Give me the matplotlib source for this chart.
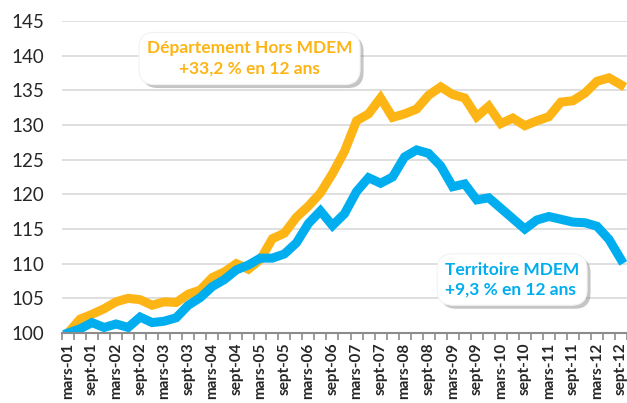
import matplotlib
matplotlib.use("Agg")
import matplotlib.pyplot as plt
import matplotlib.patheffects as pe

plt.rcParams['font.family'] = ['Lato', 'DejaVu Sans']

years = ['01', '02', '03', '04', '05', '06', '07', '08', '09', '10', '11', '12']
months = ['mars', 'juin', 'sept', 'déc']
categories = [f"{m}-{y}" for y in years for m in months][:47]  # mars-01 .. sept-12

dept_hors_mdem = [100, 102.0, 102.7, 103.5, 104.5, 105.0, 104.8, 104.0, 104.5, 104.4,
                  105.6, 106.2, 108.0, 108.8, 110.0, 109.2, 110.6, 113.6, 114.4, 116.7,
                  118.3, 120.2, 123.0, 126.2, 130.6, 131.6, 133.9, 131.1, 131.6, 132.3,
                  134.3, 135.5, 134.4, 133.9, 131.2, 132.7, 130.2, 131.0, 129.9, 130.6,
                  131.2, 133.3, 133.5, 134.6, 136.3, 136.8, 135.8]
territoire_mdem = [100, 100.6, 101.5, 100.8, 101.3, 100.8, 102.3, 101.5, 101.7, 102.2,
                   104.0, 105.1, 106.7, 107.7, 109.1, 109.8, 110.8, 110.8, 111.4, 113.0,
                   115.8, 117.6, 115.5, 117.2, 120.4, 122.4, 121.6, 122.5, 125.4, 126.4,
                   125.9, 124.1, 121.1, 121.5, 119.2, 119.5, 118.0, 116.5, 115.0, 116.3,
                   116.8, 116.4, 116.0, 115.9, 115.4, 113.5, 110.6]
y_ticks = [100, 105, 110, 115, 120, 125, 130, 135, 140, 145]

ORANGE = '#FDB515'
BLUE = '#00AEEF'

fig = plt.figure(figsize=(6.27, 4.03), dpi=100)
ax = fig.add_axes([62/627, 1-333/403, 1-62/627, (333-21)/403])

x = list(range(len(categories)))
ax.plot(x, dept_hors_mdem, color=ORANGE, lw=6.5, solid_joinstyle='miter', zorder=3)
ax.plot(x, territoire_mdem, color=BLUE, lw=6.5, solid_joinstyle='miter', zorder=4)

ax.set_xlim(-0.5, len(categories) - 0.5)
ax.set_ylim(100, 145)
ax.set_yticks(y_ticks)
ax.set_yticklabels([str(v) for v in y_ticks], fontsize=13.5, color='#262626')
ax.yaxis.grid(True, color='#d9d9d9', lw=1.2)
ax.set_axisbelow(True)
ax.tick_params(axis='y', length=0, pad=13)

ax.set_xticks(x[::2])
ax.set_xticklabels(categories[::2], rotation=90, fontsize=11, fontweight='bold',
                   color='#262626')
ax.set_xticks([i - 0.5 for i in range(len(categories) + 1)], minor=True)
ax.tick_params(axis='x', which='major', length=0, pad=7)
ax.tick_params(axis='x', which='minor', length=5, color='#8c8c8c', width=1.2)

for s in ['left', 'right', 'top']:
    ax.spines[s].set_visible(False)
ax.spines['bottom'].set_color('#8c8c8c')
ax.spines['bottom'].set_linewidth(1.5)
ax.spines['bottom'].set_zorder(5)

shadow = [pe.withSimplePatchShadow(offset=(2.5, -2.5), shadow_rgbFace='#7f7f7f', alpha=0.45)]

t1 = fig.text(249.5/627, 1-58.5/403, "Département Hors MDEM\n+33,2 % en 12 ans",
              ha='center', va='center', multialignment='center', fontsize=12.5,
              fontweight='bold', color=ORANGE, linespacing=1.35,
              bbox=dict(boxstyle='round,pad=0.45,rounding_size=0.9', fc='white', ec='#f2f2f2', lw=0.8))
t1.get_bbox_patch().set_path_effects(shadow)

t2 = fig.text(445/627, 1-279.5/403, "Territoire MDEM\n+9,3 % en 12 ans",
              ha='left', va='center', multialignment='left', fontsize=12.5,
              fontweight='bold', color=BLUE, linespacing=1.3,
              bbox=dict(boxstyle='round,pad=0.45,rounding_size=0.9', fc='white', ec='#f2f2f2', lw=0.8))
t2.get_bbox_patch().set_path_effects(shadow)

fig.savefig('out.png', dpi=100)
